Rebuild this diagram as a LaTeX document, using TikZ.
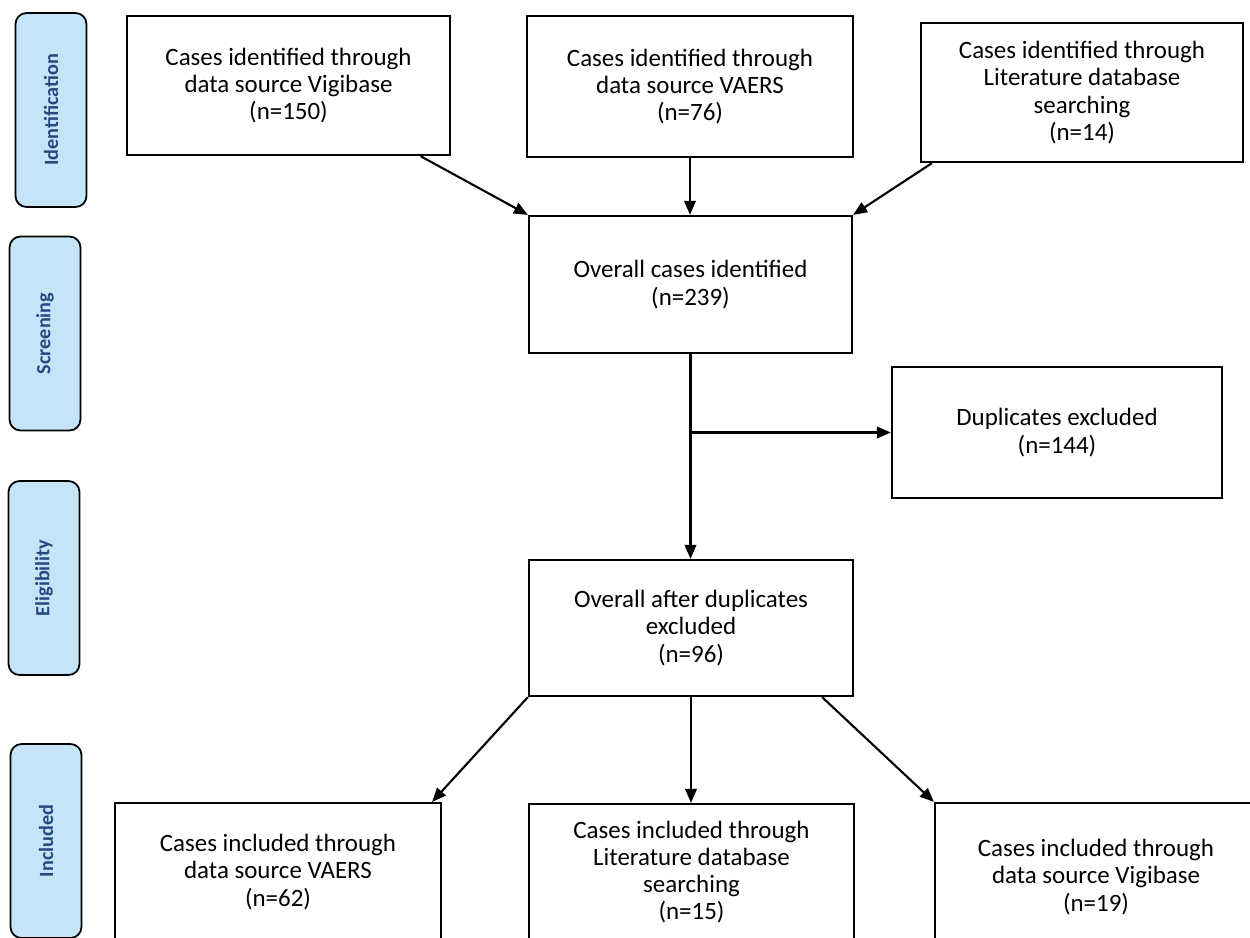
\documentclass[tikz,border=0pt]{standalone}
\usepackage{fontspec}
\setmainfont{Carlito}
\usetikzlibrary{positioning}
\usetikzlibrary{calc}
\usetikzlibrary{arrows.meta}
\definecolor{stagefill}{HTML}{C5E4F7}
\definecolor{stagetext}{HTML}{24497F}
\tikzset{
    stage/.style = {rectangle, rounded corners=0.22cm, draw, line width=1pt, fill=stagefill,
        text=stagetext, rotate=90, font=\bfseries\fontsize{11.5}{13}\selectfont,
        minimum width=3.88cm, minimum height=1.42cm, inner sep=0pt},
    flowbox/.style = {rectangle, draw, line width=1.3pt, align=center,
        font=\fontsize{14.2}{15.5}\selectfont, inner sep=0pt}}
\begin{document}
\begin{tikzpicture}[-{Triangle[length=2.8mm,width=2.3mm]}, x=0.02cm, y=-0.02cm,
    line width=1.2pt]
    \clip (0,0) rectangle (1250,937);
    \node[stage] (ident) at (51,110) {Identification};
    \node[stage] (screen) at (45,333.5) {Screening};
    \node[stage] (elig) at (44,578) {Eligibility};
    \node[stage] (incl) at (46,841) {Included};
    \node[flowbox, minimum width=6.46cm, minimum height=2.78cm] (vigi) at (288.5,85.5)
        {Cases identified through\\data source Vigibase\\(n=150)};
    \node[flowbox, minimum width=6.52cm, minimum height=2.82cm] (vaers) at (690,86.5)
        {Cases identified through\\data source VAERS\\(n=76)};
    \node[flowbox, minimum width=6.44cm, minimum height=2.78cm] (lit) at (1082,92.5)
        {Cases identified through\\Literature database\\searching\\(n=14)};
    \node[flowbox, minimum width=6.46cm, minimum height=2.74cm] (overall) at (690.5,284.5)
        {Overall cases identified\\(n=239)};
    \node[flowbox, minimum width=6.6cm, minimum height=2.62cm] (dup) at (1057,432.5)
        {Duplicates excluded\\(n=144)};
    \node[flowbox, minimum width=6.48cm, minimum height=2.72cm] (after) at (691,628)
        {Overall after duplicates\\excluded\\(n=96)};
    \node[flowbox, minimum width=6.52cm, minimum height=2.76cm] (inc1) at (278,872)
        {Cases included through\\data source VAERS\\(n=62)};
    \node[flowbox, minimum width=6.5cm, minimum height=2.72cm] (inc2) at (691.5,872)
        {Cases included through\\Literature database\\searching\\(n=15)};
    \node[flowbox, minimum width=6.44cm, minimum height=2.96cm] (inc3) at (1096,877)
        {Cases included through\\data source Vigibase\\(n=19)};
    \draw ($(vigi.south)+(132,0)$) -- (overall.north west);
    \draw (vaers.south) -- (vaers.south |- overall.north);
    \draw ($(lit.south west)+(12,0)$) -- (overall.north east);
    \draw (overall.south) -- (overall.south |- after.north);
    \draw (overall.south |- dup.west) -- (dup.west);
    \draw (after.south west) -- ($(inc1.north east)+(-10,0)$);
    \draw (after.south) -- (after.south |- inc2.north);
    \draw ($(after.south east)+(-32,0)$) -- (inc3.north west);
\end{tikzpicture}
\end{document}
